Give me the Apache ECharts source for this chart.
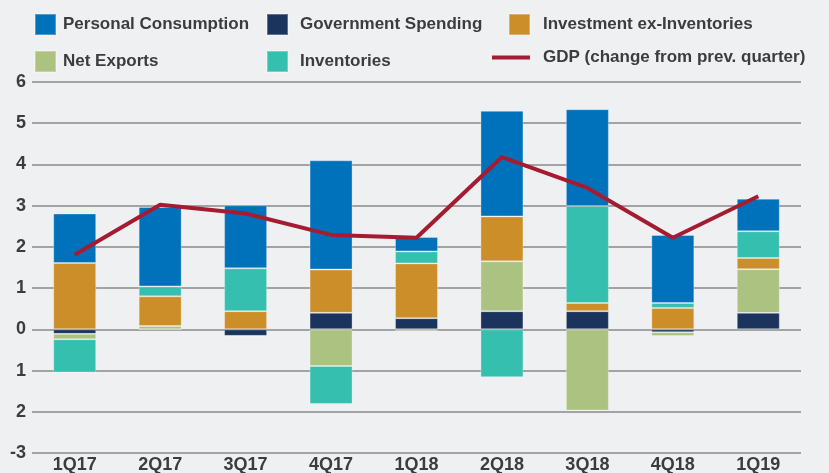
<!DOCTYPE html>
<html>
<head>
<meta charset="utf-8">
<script src="https://cdn.jsdelivr.net/npm/echarts@6/dist/echarts.min.js"></script>
<style>
  html, body { margin: 0; padding: 0; background: #eff0f2; }
  #chart { width: 829px; height: 473px; }
</style>
</head>
<body>
<div id="chart"></div>
<script>
const quarters = ["1Q17", "2Q17", "3Q17", "4Q17", "1Q18", "2Q18", "3Q18", "4Q18", "1Q19"];
const personal = [1.20, 1.93, 1.53, 2.65, 0.35, 2.56, 2.35, 1.65, 0.79];
const government = [-0.11, 0, -0.16, 0.40, 0.27, 0.44, 0.44, -0.07, 0.40];
const investment = [1.61, 0.72, 0.44, 1.05, 1.33, 1.09, 0.20, 0.52, 0.27];
const netExports = [-0.13, 0.08, 0, -0.89, -0.04, 1.21, -1.97, -0.09, 1.06];
const inventories = [-0.81, 0.24, 1.04, -0.92, 0.29, -1.16, 2.35, 0.12, 0.65];
const gdp = [1.81, 3.02, 2.81, 2.29, 2.22, 4.18, 3.43, 2.22, 3.23];
// tick labels as printed in the source (minus sign missing on -1 and -2)
const yTickLabels = ["-3", "2", "1", "0", "1", "2", "3", "4", "5", "6"];

const textColor = "#3c3c3c";
const font = "Liberation Sans";
const legendText = { fontSize: 17, fontWeight: "bold", color: textColor, fontFamily: font };

let chartInstance = echarts.init(document.getElementById("chart"));

function barSeries(name, data, color) {
  return {
    name: name,
    type: "bar",
    stack: "gdp",
    data: data,
    barWidth: 43,
    itemStyle: { color: color, borderColor: "rgba(255,255,255,0.3)", borderWidth: 1 },
  };
}

const option = {
  backgroundColor: "#eff0f2",
  animation: false,
  legend: [
    {
      orient: "vertical", left: 29, top: 8, itemWidth: 21, itemHeight: 21, itemGap: 14,
      icon: "rect", textStyle: Object.assign({ padding: [0, 0, 0, 2] }, legendText),
      data: ["Personal Consumption", "Net Exports"],
    },
    {
      orient: "vertical", left: 261, top: 8, itemWidth: 21, itemHeight: 21, itemGap: 14,
      icon: "rect", textStyle: Object.assign({ padding: [0, 0, 0, 7] }, legendText),
      data: ["Government Spending", "Inventories"],
    },
    {
      orient: "vertical", left: 503, top: 8, itemWidth: 21, itemHeight: 21,
      icon: "rect", textStyle: Object.assign({ padding: [0, 0, 0, 8] }, legendText),
      data: ["Investment ex-Inventories"],
    },
    {
      orient: "vertical", left: 487, top: 44, itemWidth: 38, itemHeight: 4,
      icon: "rect", textStyle: Object.assign({ padding: [0, 0, 0, 8] }, legendText),
      data: ["GDP (change from prev. quarter)"],
    },
  ],
  grid: { left: 32, right: 28, top: 82, bottom: 20, containLabel: false, outerBoundsMode: "none" },
  xAxis: {
    type: "category",
    data: quarters,
    axisLine: { show: false },
    axisTick: { show: false },
    axisLabel: { fontSize: 18, fontWeight: "bold", color: textColor, fontFamily: font, margin: 3 },
  },
  yAxis: {
    type: "value",
    min: -3,
    max: 6,
    interval: 1,
    axisLine: { show: false },
    axisTick: { show: false },
    axisLabel: {
      fontSize: 18, fontWeight: "bold", color: textColor, fontFamily: font, margin: 6,
      formatter: (v) => yTickLabels[Math.round(v) + 3],
    },
    splitLine: { lineStyle: { color: "#a3a3a3", width: 2 } },
  },
  series: [
    barSeries("Government Spending", government, "#1a345e"),
    barSeries("Net Exports", netExports, "#abc280"),
    barSeries("Investment ex-Inventories", investment, "#cc8e29"),
    barSeries("Inventories", inventories, "#35bfae"),
    barSeries("Personal Consumption", personal, "#0072bc"),
    {
      name: "GDP (change from prev. quarter)",
      type: "line",
      data: gdp,
      showSymbol: false,
      symbol: "none",
      z: 10,
      lineStyle: { color: "#a51c30", width: 4 },
      itemStyle: { color: "#a51c30" },
    },
  ],
};
chartInstance.setOption(option);
</script>
</body>
</html>
